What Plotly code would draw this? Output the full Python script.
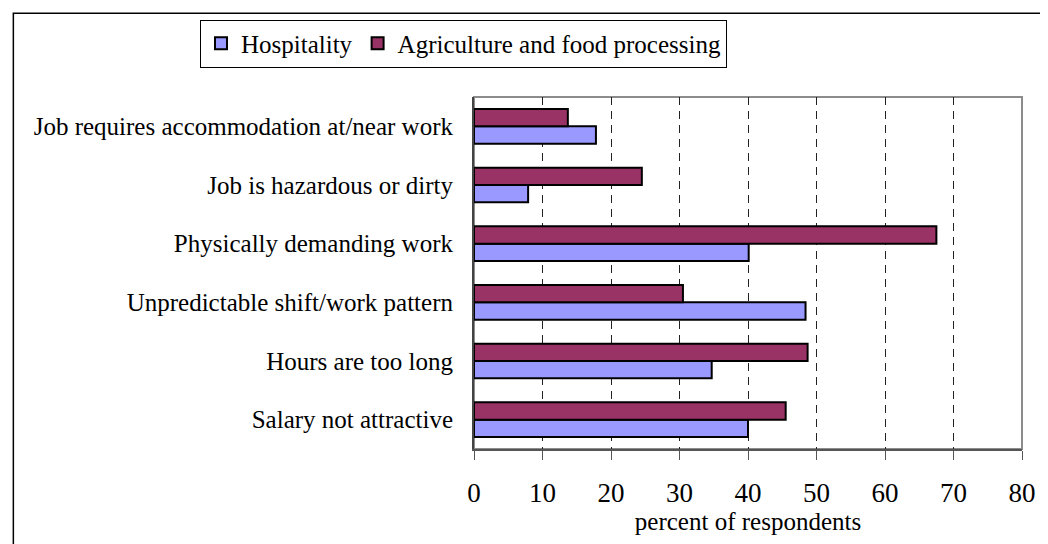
import plotly.graph_objects as go

# categories listed bottom-to-top (plotly draws the first category at the bottom)
categories = [
    "Salary not attractive",
    "Hours are too long",
    "Unpredictable shift/work pattern",
    "Physically demanding work",
    "Job is hazardous or dirty",
    "Job requires accommodation at/near work",
]
hospitality = [40.0, 34.7, 48.4, 40.1, 7.9, 17.8]
agriculture = [45.5, 48.7, 30.5, 67.5, 24.5, 13.7]

x_ticks = [0, 10, 20, 30, 40, 50, 60, 70, 80]

SERIF = "Liberation Serif, Times New Roman, serif"

fig = go.Figure()
fig.add_trace(go.Bar(
    y=categories, x=hospitality, name="Hospitality", orientation="h",
    marker=dict(color="#9999FF", line=dict(color="black", width=2)),
))
fig.add_trace(go.Bar(
    y=categories, x=agriculture, name="Agriculture and food processing", orientation="h",
    marker=dict(color="#993366", line=dict(color="black", width=2)),
))

# plot area border (top/right grey)
fig.add_shape(type="rect", xref="paper", yref="paper", x0=0, x1=1, y0=0, y1=1,
              line=dict(color="#8c8c8c", width=2), layer="below")
# outer chart frame (cut off at right and bottom)
fig.add_shape(type="rect", xref="paper", yref="paper", x0=-0.8406, x1=1.06, y0=-0.3, y1=1.238,
              line=dict(color="black", width=1.5))

fig.update_layout(
    width=1040, height=536,
    margin=dict(l=466, r=22, t=88, b=95),
    paper_bgcolor="white", plot_bgcolor="white",
    barmode="group", bargap=0.41, bargroupgap=0,
    font=dict(family=SERIF, color="black", size=25),
    showlegend=True,
    legend=dict(
        orientation="h", x=-0.50, y=1.22, xanchor="left", yanchor="top",
        bordercolor="black", borderwidth=1, font=dict(size=25, family=SERIF),
        itemwidth=30, traceorder="normal", bgcolor="white",
    ),
    xaxis=dict(
        range=[0, 80], tickvals=x_ticks, showgrid=True, gridcolor="#222",
        griddash="8px,6px", gridwidth=1, zeroline=False,
        showline=True, linecolor="#555", linewidth=2,
        ticks="outside", ticklen=9, tickcolor="#555", tickwidth=1,
        tickfont=dict(size=27, family=SERIF), ticklabelstandoff=10,
        title=dict(text="percent of respondents", font=dict(size=25, family=SERIF), standoff=4),
    ),
    yaxis=dict(
        showgrid=False, showline=True, linecolor="#444", linewidth=2,
        ticks="", tickfont=dict(size=25, family=SERIF), ticklabelstandoff=14,
    ),
)

fig.write_html("out.html")
